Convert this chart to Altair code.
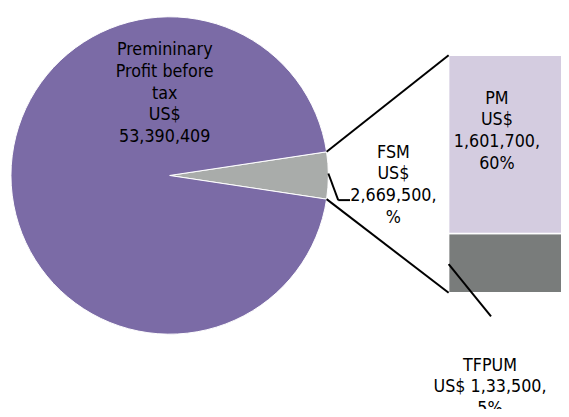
import math
import altair as alt
import pandas as pd

# ---- data ----
pie_labels = ["FSM", "Premininary Profit before tax"]
pie_values = [2669500, 53390409]
pie_colors = ["#A9ACAA", "#7B6BA6"]

bar_labels = ["TFPUM", "PM"]
bar_values = [20, 60]          # drawn share of the bar (percent)
bar_colors = ["#797C7B", "#D4CCE0"]

pie_text = "Premininary\nProfit before\ntax\nUS$\n53,390,409"
fsm_text = "FSM\nUS$\n2,669,500,\n%"
pm_text = "PM\nUS$\n1,601,700,\n60%"
tfpum_text = "TFPUM\nUS$ 1,33,500,\n5%"

# ---- layout (chart pixel coordinates) ----
W, H = 561, 401
CX, CY, R = 164, 167, 161
BAR_X0, BAR_X1 = 447, 561
BAR_Y_TOP, BAR_Y_BOT = 45, 286
FONT = "DejaVu Sans Condensed, Liberation Sans, sans-serif"

frac = pie_values[0] / sum(pie_values)
start = math.pi / 2 - frac * math.pi

pie_df = pd.DataFrame({"label": pie_labels, "value": pie_values, "ord": [0, 1]})
pie = alt.Chart(pie_df).mark_arc(radius=R, stroke="white", strokeWidth=1).encode(
    theta=alt.Theta("value:Q", stack=True,
                    scale=alt.Scale(range=[start, start + 2 * math.pi])),
    color=alt.Color("label:N", scale=alt.Scale(domain=pie_labels, range=pie_colors), legend=None),
    order=alt.Order("ord:Q"),
    x=alt.value(CX), y=alt.value(CY),
)

cum = [0]
for v in bar_values:
    cum.append(cum[-1] + v)
bar_df = pd.DataFrame({"label": bar_labels, "y0": cum[:-1], "y1": cum[1:]})
total = cum[-1]
bar = alt.Chart(bar_df).mark_bar(stroke="white", strokeWidth=1.5).encode(
    y=alt.Y("y0:Q", axis=None, scale=alt.Scale(domain=[0, total], range=[BAR_Y_BOT, BAR_Y_TOP], nice=False, zero=True)),
    y2="y1:Q",
    x=alt.value(BAR_X0), x2=alt.value(BAR_X1 + 2),
    color=alt.Color("label:N", scale=alt.Scale(domain=bar_labels, range=bar_colors), legend=None),
)

def edge(a):
    return CX + R * math.sin(a), CY - R * math.cos(a)

p1 = edge(start)
p2 = edge(start + frac * 2 * math.pi)

def seg(x1, y1, x2, y2):
    return alt.Chart(pd.DataFrame({"k": [0]})).mark_rule(color="black", strokeWidth=2).encode(
        x=alt.value(x1), y=alt.value(y1), x2=alt.value(x2), y2=alt.value(y2))

lines = [
    seg(p1[0], p1[1], BAR_X0, BAR_Y_TOP),
    seg(p2[0], p2[1], BAR_X0, BAR_Y_BOT),
    seg(325, 165, 335, 192),
    seg(335, 192, 347, 192),
    seg(447, 257, 490, 310),
]

def label(txt, x, y):
    return alt.Chart(pd.DataFrame({"k": [0]})).mark_text(
        font=FONT, fontSize=18, lineBreak="\n", lineHeight=22,
        align="center", baseline="alphabetic", color="black").encode(
        x=alt.value(x), y=alt.value(y), text=alt.value(txt))

texts = [
    label(pie_text, 159, 45),
    label(fsm_text, 391, 149),
    label(pm_text, 496, 94),
    label(tfpum_text, 489, 365),
]

chart = alt.layer(pie, bar, *lines, *texts).resolve_scale(color="independent").properties(
    width=W, height=H, padding=0, autosize=alt.AutoSizeParams(type="none"),
).configure_view(stroke=None)

chart.save("out.html", embed_options={"renderer": "svg", "actions": False})
